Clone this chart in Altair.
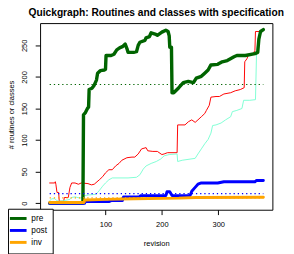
import altair as alt
import pandas as pd

# ---- data ----
pre_rev = [1, 60, 61, 64, 68, 70, 71, 76, 80, 84, 86, 91, 98, 100, 101, 110, 115, 120, 125, 130, 135, 138, 140,
           150, 155, 158, 161, 170, 172, 178, 181, 188, 192, 200, 207, 211, 213, 214, 217, 218, 221, 230, 238,
           247, 256, 261, 270, 276, 282, 287, 299, 307, 316, 328, 333, 348, 365, 370, 372, 375, 380]
pre_val = [0, 0, 140, 143, 150, 152, 180, 182, 187, 195, 206, 210, 211, 212, 234, 234, 236, 243, 246, 248, 252, 245, 239,
           239, 240, 250, 255, 258, 262, 264, 270, 268, 266, 271, 274, 272, 265, 247, 247, 175, 175, 183, 191,
           193, 191, 198, 201, 206, 211, 219, 220, 224, 226, 232, 234, 234, 237, 239, 260, 272, 275]

post_rev = [1, 63, 64, 106, 110, 130, 132, 160, 162, 207, 209, 214, 218, 250, 253, 259, 264, 270, 299, 310, 365, 368, 380]
post_val = [0, 0, 2.5, 2.5, 4, 4, 10, 10, 12, 12, 18, 18, 12, 12, 19, 25, 30, 32, 32, 34, 34, 36, 36]

inv_rev = [1, 62, 63, 100, 150, 230, 260, 380]
inv_val = [1, 1, 5, 6, 7, 8, 9, 9.5]

red_rev = [1, 10, 11, 12, 14, 17, 18, 26, 27, 34, 37, 40, 46, 52, 57, 69, 75, 80, 89, 95, 100, 106, 112, 118, 124,
           129, 138, 147, 152, 158, 164, 172, 175, 184, 192, 200, 204, 210, 227, 228, 241, 247, 253, 259, 264,
           270, 276, 279, 284, 287, 296, 302, 310, 322, 330, 339, 346, 347, 351, 353, 362, 365, 366, 376, 380]
red_val = [32, 32, 34, 30, 17, 17, 3, 3, 9, 9, 25, 32, 32, 30, 32, 31, 29, 30, 37, 42, 48, 53, 53, 59, 63,
           68, 72, 73, 73, 78, 86, 88, 83, 82, 82, 77, 78, 80, 80, 124, 124, 129, 132, 128, 132,
           137, 142, 147, 155, 168, 169, 169, 173, 175, 178, 180, 183, 224, 229, 234, 237, 242, 272, 272, 275]

aqua_rev = [1, 5, 10, 14, 17, 26, 37, 40, 46, 55, 63, 70, 83, 89, 95, 100, 106, 112, 140, 155, 161, 167, 172, 181,
            190, 198, 204, 213, 227, 228, 236, 259, 264, 270, 276, 282, 287, 290, 296, 305, 313, 322, 325, 333,
            342, 345, 356, 366, 368, 372, 380]
aqua_val = [4, 7, 7, 4, 3, 4, 6, 9, 10, 8, 12, 13, 14, 20, 27, 32, 37, 40, 40, 41, 45, 54, 59, 63,
            66, 70, 75, 77, 78, 66, 68, 71, 78, 86, 94, 101, 111, 123, 124, 127, 132, 137, 145, 147,
            150, 163, 163, 164, 242, 262, 276]

series_names = ["pre", "post", "inv"]
series_colors = ["#006400", "#0000FF", "#FFA500"]
mean_vals = [188, 15, 8.5]
mean_range = [1, 380]

x_ticks = [0, 100, 200, 300]
y_ticks = [0, 50, 100, 150, 200, 250]


def frame(rev, val, name):
    return pd.DataFrame({"rev": rev, "val": val, "series": name, "i": range(len(rev))})


main_df = pd.concat([frame(pre_rev, pre_val, "pre"),
                     frame(post_rev, post_val, "post"),
                     frame(inv_rev, inv_val, "inv")], ignore_index=True)
red_df = frame(red_rev, red_val, "routines")
aqua_df = frame(aqua_rev, aqua_val, "classes")
mean_df = pd.concat([frame(mean_range, [m, m], s) for s, m in zip(series_names, mean_vals)], ignore_index=True)

FONT = "Liberation Sans"
W, H = 239, 192
AX_FS = 7.7

xs = alt.Scale(domain=[-16, 396], nice=False, zero=False)
ys = alt.Scale(domain=[-10.4, 285.3], nice=False, zero=False)
cs = alt.Scale(domain=series_names, range=series_colors)

x_axis = alt.Axis(
    values=x_ticks, title="revision", domain=False, grid=False, tickSize=5, tickColor="black",
    labelFontSize=AX_FS, labelColor="black", labelPadding=10.5, labelBaseline="middle", labelFlush=False,
    labelOverlap=False,
    titleFontSize=AX_FS, titleFontWeight="normal", titleColor="black", titleX=W / 2, titleY=35,
    titleBaseline="middle")
y_axis = alt.Axis(
    values=y_ticks, title="# routines or classes", domain=False, grid=False, tickSize=5, tickColor="black",
    labelFontSize=AX_FS, labelColor="black", labelAngle=270, labelAlign="center", labelBaseline="middle",
    labelPadding=10.5, labelFlush=False, labelOverlap=False,
    titleFontSize=AX_FS, titleFontWeight="normal", titleColor="black", titleAngle=270, titleX=-29,
    titleY=H / 2 - 2, titleAlign="center", titleBaseline="middle")

x_enc = alt.X("rev:Q", scale=xs, axis=x_axis)
y_enc = alt.Y("val:Q", scale=ys, axis=y_axis)

legend = alt.Legend(orient="none", legendX=-33, legendY=191, title=None, symbolType="M-2.3,0L2.6,0",
                    symbolStrokeWidth=3, symbolSize=49, labelFontSize=8.5, labelColor="black",
                    strokeColor="black", fillColor="white", padding=5, rowPadding=0.3, labelOffset=9)

base_line = dict(strokeCap="round", strokeJoin="round")

red = alt.Chart(red_df).mark_line(color="#FF0000", strokeWidth=1, **base_line).encode(
    x=x_enc, y=y_enc, order="i:Q")
aqua = alt.Chart(aqua_df).mark_line(color="#7FFFD4", strokeWidth=1, **base_line).encode(
    x=x_enc, y=y_enc, order="i:Q")

layers = [red, aqua]
for s, w in zip(series_names, [3.5, 3, 3]):
    layers.append(
        alt.Chart(main_df).transform_filter(alt.datum.series == s).mark_line(strokeWidth=w, **base_line).encode(
            x=x_enc, y=y_enc, order="i:Q",
            color=alt.Color("series:N", scale=cs, legend=legend)))

means = alt.Chart(mean_df).mark_line(strokeWidth=1.2, strokeDash=[1.3, 3]).encode(
    x=x_enc, y=y_enc, detail="series:N",
    color=alt.Color("series:N", scale=cs, legend=None))
layers.append(means)

chart = alt.layer(*layers).properties(
    width=W, height=H,
    title=alt.Title("Quickgraph: Routines and classes with specification", fontSize=10.5, fontWeight="bold",
                    font=FONT, anchor="middle", offset=5, color="black"),
    autosize=alt.AutoSizeParams(type="none"),
    padding={"left": 33, "top": 12, "right": 14, "bottom": 42},
).configure(font=FONT).configure_view(stroke="black", strokeWidth=1).configure_axis(labelOverlap=False)

chart.save("out.html", embed_options={"renderer": "svg", "actions": False})
